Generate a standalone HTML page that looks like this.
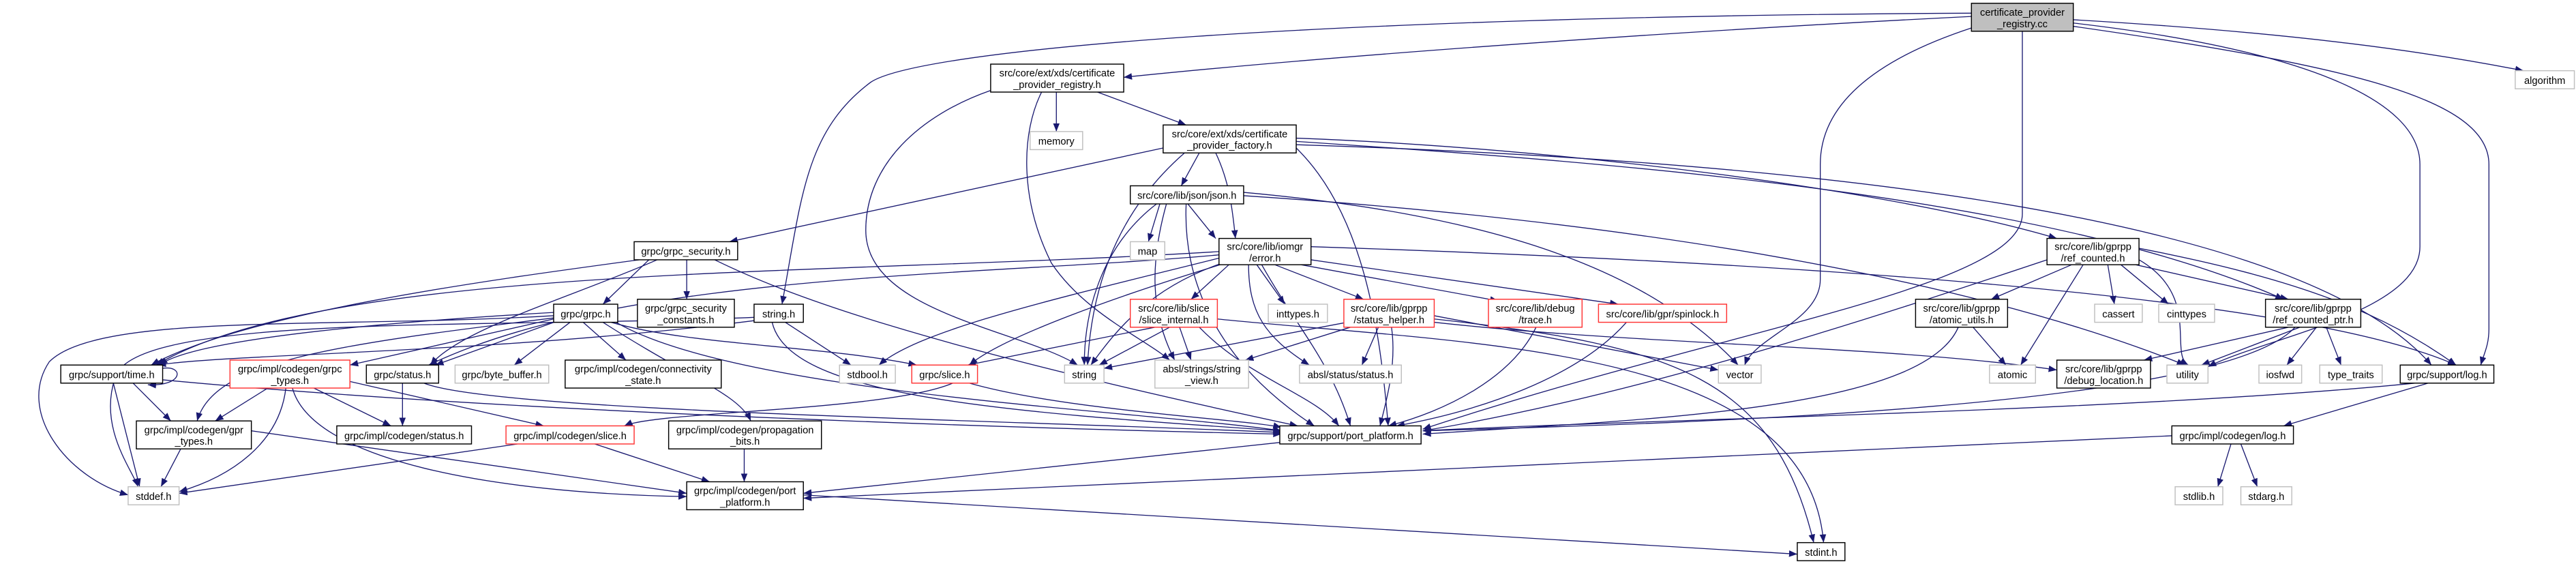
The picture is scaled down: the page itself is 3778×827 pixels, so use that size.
<!DOCTYPE html>
<html><head><meta charset="utf-8"><style>
html,body{margin:0;padding:0;background:#fff}
svg{display:block}
text{font-family:"Liberation Sans",sans-serif;font-size:6.1px;fill:#000;text-anchor:middle}
.e{fill:none;stroke:#191970;stroke-width:0.55}
.b{fill:#fff;stroke:#000;stroke-width:0.6}
.g{fill:#fff;stroke:#bfbfbf;stroke-width:0.6}
.r{fill:#fff;stroke:#ff3333;stroke-width:0.6}
</style></head><body>
<svg width="3778" height="827" viewBox="0 0 1568 343" preserveAspectRatio="none" xmlns="http://www.w3.org/2000/svg">
<defs><marker id="a" markerUnits="userSpaceOnUse" markerWidth="6" markerHeight="5" refX="5" refY="2" orient="auto"><path d="M0,0 L5,2 L0,4 z" fill="#191970"/></marker></defs>
<g class="e" marker-end="url(#a)">
<path d="M1200,10 C1000,20 800,35 684,47"/>
<path d="M1200,8 C800,10 560,30 530,50 C490,80 488,120 476,185"/>
<path d="M1200,17 C1130,40 1108,70 1108,100 L1108,170 C1108,195 1068,205 1062,222"/>
<path d="M1231,19 L1231,130 C1231,175 1050,200 866,261"/>
<path d="M1262,12 C1400,20 1480,32 1536,43"/>
<path d="M1262,14 C1400,30 1473,60 1473,100 L1473,150 C1473,190 1380,205 1344,223"/>
<path d="M1262,16 C1430,40 1515,60 1515,100 L1515,200 C1515,210 1512,215 1510,222"/>
<path d="M643,56 L643,80"/>
<path d="M668,56 L722,76"/>
<path d="M603,55 C560,70 527,100 527,140 C527,190 620,200 656,222"/>
<path d="M634,56 C622,80 620,120 640,160 C660,190 695,205 712,219"/>
<path d="M708,90 L444,147"/>
<path d="M730,93 L719,113"/>
<path d="M740,93 C748,110 750,125 752,145"/>
<path d="M721,93 C690,120 665,160 662,222"/>
<path d="M789,84 C950,90 1150,115 1252,145"/>
<path d="M789,86 C1000,100 1250,120 1390,182"/>
<path d="M789,90 C830,130 840,200 845,259"/>
<path d="M789,88 C1100,98 1400,130 1480,222"/>
<path d="M706,124 L699,147"/>
<path d="M723,124 L740,145"/>
<path d="M704,124 C670,150 660,190 660,222"/>
<path d="M710,124 C700,160 700,190 715,219"/>
<path d="M722,124 C720,170 740,220 800,259"/>
<path d="M757,117 C900,130 1000,160 1058,222"/>
<path d="M757,119 C1000,135 1200,170 1330,222"/>
<path d="M748,161 L725,182"/>
<path d="M765,161 L782,185"/>
<path d="M776,161 L830,182"/>
<path d="M792,161 L912,183"/>
<path d="M798,158 L985,185"/>
<path d="M760,161 C760,190 770,205 797,222"/>
<path d="M768,161 C790,200 810,220 822,259"/>
<path d="M742,157 C650,180 560,200 535,222"/>
<path d="M746,160 C680,180 610,205 590,222"/>
<path d="M742,155 C600,168 380,165 261,222"/>
<path d="M742,153 C500,168 200,160 95,222"/>
<path d="M798,150 C1100,160 1400,180 1495,222"/>
<path d="M744,160 C700,175 680,200 664,222"/>
<path d="M395,158 L367,185"/>
<path d="M418,158 L418,182"/>
<path d="M389,158 C300,170 150,190 92,222"/>
<path d="M400,158 C350,180 280,200 262,222"/>
<path d="M435,158 C480,180 560,210 790,259"/>
<path d="M337,190 C250,195 120,205 97,222"/>
<path d="M337,194 L213,222"/>
<path d="M340,195 L265,222"/>
<path d="M347,196 L313,222"/>
<path d="M355,196 L381,219"/>
<path d="M367,196 C420,230 450,240 457,256"/>
<path d="M372,196 C420,210 500,210 558,222"/>
<path d="M375,196 C450,240 700,250 780,262"/>
<path d="M337,192 C200,200 60,190 30,220 C10,250 40,290 78,301"/>
<path d="M340,193 C200,210 130,220 120,256"/>
<path d="M478,196 L518,222"/>
<path d="M459,193 C300,200 80,190 70,230 C60,260 80,285 84,296"/>
<path d="M459,195 C300,215 140,215 96,222"/>
<path d="M470,196 C480,240 600,250 780,262"/>
<path d="M81,233 L104,256"/>
<path d="M69,233 L85,296"/>
<path d="M99,231 C300,250 600,260 780,264"/>
<path d="M99,224 C112,222 112,235 90,234"/>
<path d="M163,236 L131,256"/>
<path d="M174,236 C170,270 140,290 109,299"/>
<path d="M191,236 L238,259"/>
<path d="M213,232 L331,259"/>
<path d="M178,236 C190,280 300,300 418,302"/>
<path d="M245,233 L245,259"/>
<path d="M258,233 C300,250 600,255 780,263"/>
<path d="M580,233 C540,250 400,250 380,259"/>
<path d="M590,233 C650,250 760,255 780,260"/>
<path d="M110,273 L98,296"/>
<path d="M153,262 L418,300"/>
<path d="M315,270 L109,300"/>
<path d="M362,270 L432,293"/>
<path d="M453,273 L453,293"/>
<path d="M780,269 L489,300"/>
<path d="M1478,233 L1390,259"/>
<path d="M1470,233 C1300,250 1000,255 866,262"/>
<path d="M1358,270 L1350,296"/>
<path d="M1364,270 L1374,296"/>
<path d="M1322,265 L489,303"/>
<path d="M489,301 L1094,337"/>
<path d="M1201,199 L1221,222"/>
<path d="M1192,199 C1170,250 1000,255 866,264"/>
<path d="M1261,161 L1212,182"/>
<path d="M1268,161 L1230,222"/>
<path d="M1283,161 L1287,185"/>
<path d="M1291,161 L1320,185"/>
<path d="M1300,161 L1393,182"/>
<path d="M1246,158 C1150,190 1000,240 866,262"/>
<path d="M1302,151 C1400,170 1450,190 1495,222"/>
<path d="M1302,158 C1340,180 1320,215 1332,222"/>
<path d="M1393,199 L1305,219"/>
<path d="M1400,199 L1340,222"/>
<path d="M1410,199 L1392,222"/>
<path d="M1416,199 L1425,222"/>
<path d="M1397,199 C1350,250 1000,258 866,262"/>
<path d="M703,199 L589,222"/>
<path d="M712,199 L669,222"/>
<path d="M718,199 L725,219"/>
<path d="M730,199 C760,230 800,240 815,259"/>
<path d="M741,194 C900,210 1100,210 1110,330"/>
<path d="M820,196 L672,224"/>
<path d="M822,199 L758,219"/>
<path d="M839,199 L829,222"/>
<path d="M847,199 C850,220 845,240 840,259"/>
<path d="M873,192 L1046,225"/>
<path d="M873,194 C1020,210 1080,230 1104,330"/>
<path d="M873,196 C1000,210 1150,210 1252,225"/>
<path d="M935,199 C920,230 880,250 845,259"/>
<path d="M990,196 C960,230 900,250 850,259"/>
</g>
<!-- nodes -->
<rect x="1200" y="2" width="62" height="17" fill="#bfbfbf" stroke="#000" stroke-width="0.6"/><text x="1231" y="9.5">certificate_provider</text><text x="1231" y="16.5">_registry.cc</text>
<rect class="b" x="603" y="39" width="81" height="17"/><text x="643.5" y="46.5">src/core/ext/xds/certificate</text><text x="643.5" y="53.5">_provider_registry.h</text>
<rect class="g" x="627" y="80" width="32" height="11"/><text x="643" y="88">memory</text>
<rect class="b" x="708" y="76" width="81" height="17"/><text x="748.5" y="83.5">src/core/ext/xds/certificate</text><text x="748.5" y="90.5">_provider_factory.h</text>
<rect class="b" x="688" y="113" width="69" height="11"/><text x="722.5" y="121">src/core/lib/json/json.h</text>
<rect class="g" x="688" y="147" width="21" height="11"/><text x="698.5" y="155">map</text>
<rect class="b" x="742" y="145" width="56" height="16"/><text x="770" y="152">src/core/lib/iomgr</text><text x="770" y="159">/error.h</text>
<rect class="b" x="386" y="147" width="63" height="11"/><text x="417.5" y="155">grpc/grpc_security.h</text>
<rect class="b" x="1246" y="145" width="56" height="16"/><text x="1274" y="152">src/core/lib/gprpp</text><text x="1274" y="159">/ref_counted.h</text>
<rect class="g" x="1531" y="43" width="36" height="11"/><text x="1549" y="51">algorithm</text>
<rect class="b" x="337" y="185" width="39" height="11"/><text x="356.5" y="193">grpc/grpc.h</text>
<rect class="b" x="388" y="182" width="59" height="17"/><text x="417.5" y="189.5">grpc/grpc_security</text><text x="417.5" y="196.5">_constants.h</text>
<rect class="b" x="459" y="185" width="30" height="11"/><text x="474" y="193">string.h</text>
<rect class="b" x="37" y="222" width="62" height="11"/><text x="68" y="230">grpc/support/time.h</text>
<rect class="r" x="140" y="219" width="73" height="17"/><text x="176.5" y="226.5">grpc/impl/codegen/grpc</text><text x="176.5" y="233.5">_types.h</text>
<rect class="b" x="223" y="222" width="44" height="11"/><text x="245" y="230">grpc/status.h</text>
<rect class="g" x="277" y="222" width="57" height="11"/><text x="305.5" y="230">grpc/byte_buffer.h</text>
<rect class="b" x="344" y="219" width="95" height="17"/><text x="391.5" y="226.5">grpc/impl/codegen/connectivity</text><text x="391.5" y="233.5">_state.h</text>
<rect class="g" x="511" y="222" width="34" height="11"/><text x="528" y="230">stdbool.h</text>
<rect class="r" x="555" y="222" width="40" height="11"/><text x="575" y="230">grpc/slice.h</text>
<rect class="g" x="648" y="222" width="24" height="11"/><text x="660" y="230">string</text>
<rect class="g" x="703" y="219" width="57" height="17"/><text x="731.5" y="226.5">absl/strings/string</text><text x="731.5" y="233.5">_view.h</text>
<rect class="g" x="791" y="222" width="62" height="11"/><text x="822" y="230">absl/status/status.h</text>
<rect class="r" x="688" y="182" width="53" height="17"/><text x="714.5" y="189.5">src/core/lib/slice</text><text x="714.5" y="196.5">/slice_internal.h</text>
<rect class="g" x="772" y="185" width="36" height="11"/><text x="790" y="193">inttypes.h</text>
<rect class="r" x="818" y="182" width="55" height="17"/><text x="845.5" y="189.5">src/core/lib/gprpp</text><text x="845.5" y="196.5">/status_helper.h</text>
<rect class="r" x="906" y="182" width="57" height="17"/><text x="934.5" y="189.5">src/core/lib/debug</text><text x="934.5" y="196.5">/trace.h</text>
<rect class="r" x="973" y="185" width="78" height="11"/><text x="1012" y="193">src/core/lib/gpr/spinlock.h</text>
<rect class="g" x="1046" y="222" width="26" height="11"/><text x="1059" y="230">vector</text>
<rect class="b" x="1166" y="182" width="56" height="17"/><text x="1194" y="189.5">src/core/lib/gprpp</text><text x="1194" y="196.5">/atomic_utils.h</text>
<rect class="g" x="1275" y="185" width="29" height="11"/><text x="1289.5" y="193">cassert</text>
<rect class="g" x="1314" y="185" width="34" height="11"/><text x="1331" y="193">cinttypes</text>
<rect class="b" x="1379" y="182" width="58" height="17"/><text x="1408" y="189.5">src/core/lib/gprpp</text><text x="1408" y="196.5">/ref_counted_ptr.h</text>
<rect class="g" x="1211" y="222" width="28" height="11"/><text x="1225" y="230">atomic</text>
<rect class="b" x="1252" y="219" width="57" height="17"/><text x="1280.5" y="226.5">src/core/lib/gprpp</text><text x="1280.5" y="233.5">/debug_location.h</text>
<rect class="g" x="1319" y="222" width="25" height="11"/><text x="1331.5" y="230">utility</text>
<rect class="g" x="1375" y="222" width="26" height="11"/><text x="1388" y="230">iosfwd</text>
<rect class="g" x="1412" y="222" width="38" height="11"/><text x="1431" y="230">type_traits</text>
<rect class="b" x="1461" y="222" width="57" height="11"/><text x="1489.5" y="230">grpc/support/log.h</text>
<rect class="b" x="83" y="256" width="70" height="17"/><text x="118" y="263.5">grpc/impl/codegen/gpr</text><text x="118" y="270.5">_types.h</text>
<rect class="b" x="205" y="259" width="82" height="11"/><text x="246" y="267">grpc/impl/codegen/status.h</text>
<rect class="r" x="308" y="259" width="78" height="11"/><text x="347" y="267">grpc/impl/codegen/slice.h</text>
<rect class="b" x="407" y="256" width="93" height="17"/><text x="453.5" y="263.5">grpc/impl/codegen/propagation</text><text x="453.5" y="270.5">_bits.h</text>
<rect class="b" x="779" y="259" width="86" height="11"/><text x="822" y="267">grpc/support/port_platform.h</text>
<rect class="b" x="1322" y="259" width="74" height="11"/><text x="1359" y="267">grpc/impl/codegen/log.h</text>
<rect class="g" x="78" y="296" width="31" height="11"/><text x="93.5" y="304">stddef.h</text>
<rect class="b" x="418" y="293" width="71" height="17"/><text x="453.5" y="300.5">grpc/impl/codegen/port</text><text x="453.5" y="307.5">_platform.h</text>
<rect class="g" x="1324" y="296" width="29" height="11"/><text x="1338.5" y="304">stdlib.h</text>
<rect class="g" x="1364" y="296" width="31" height="11"/><text x="1379.5" y="304">stdarg.h</text>
<rect class="b" x="1094" y="330" width="29" height="11"/><text x="1108.5" y="338">stdint.h</text>
</svg>
</body></html>
